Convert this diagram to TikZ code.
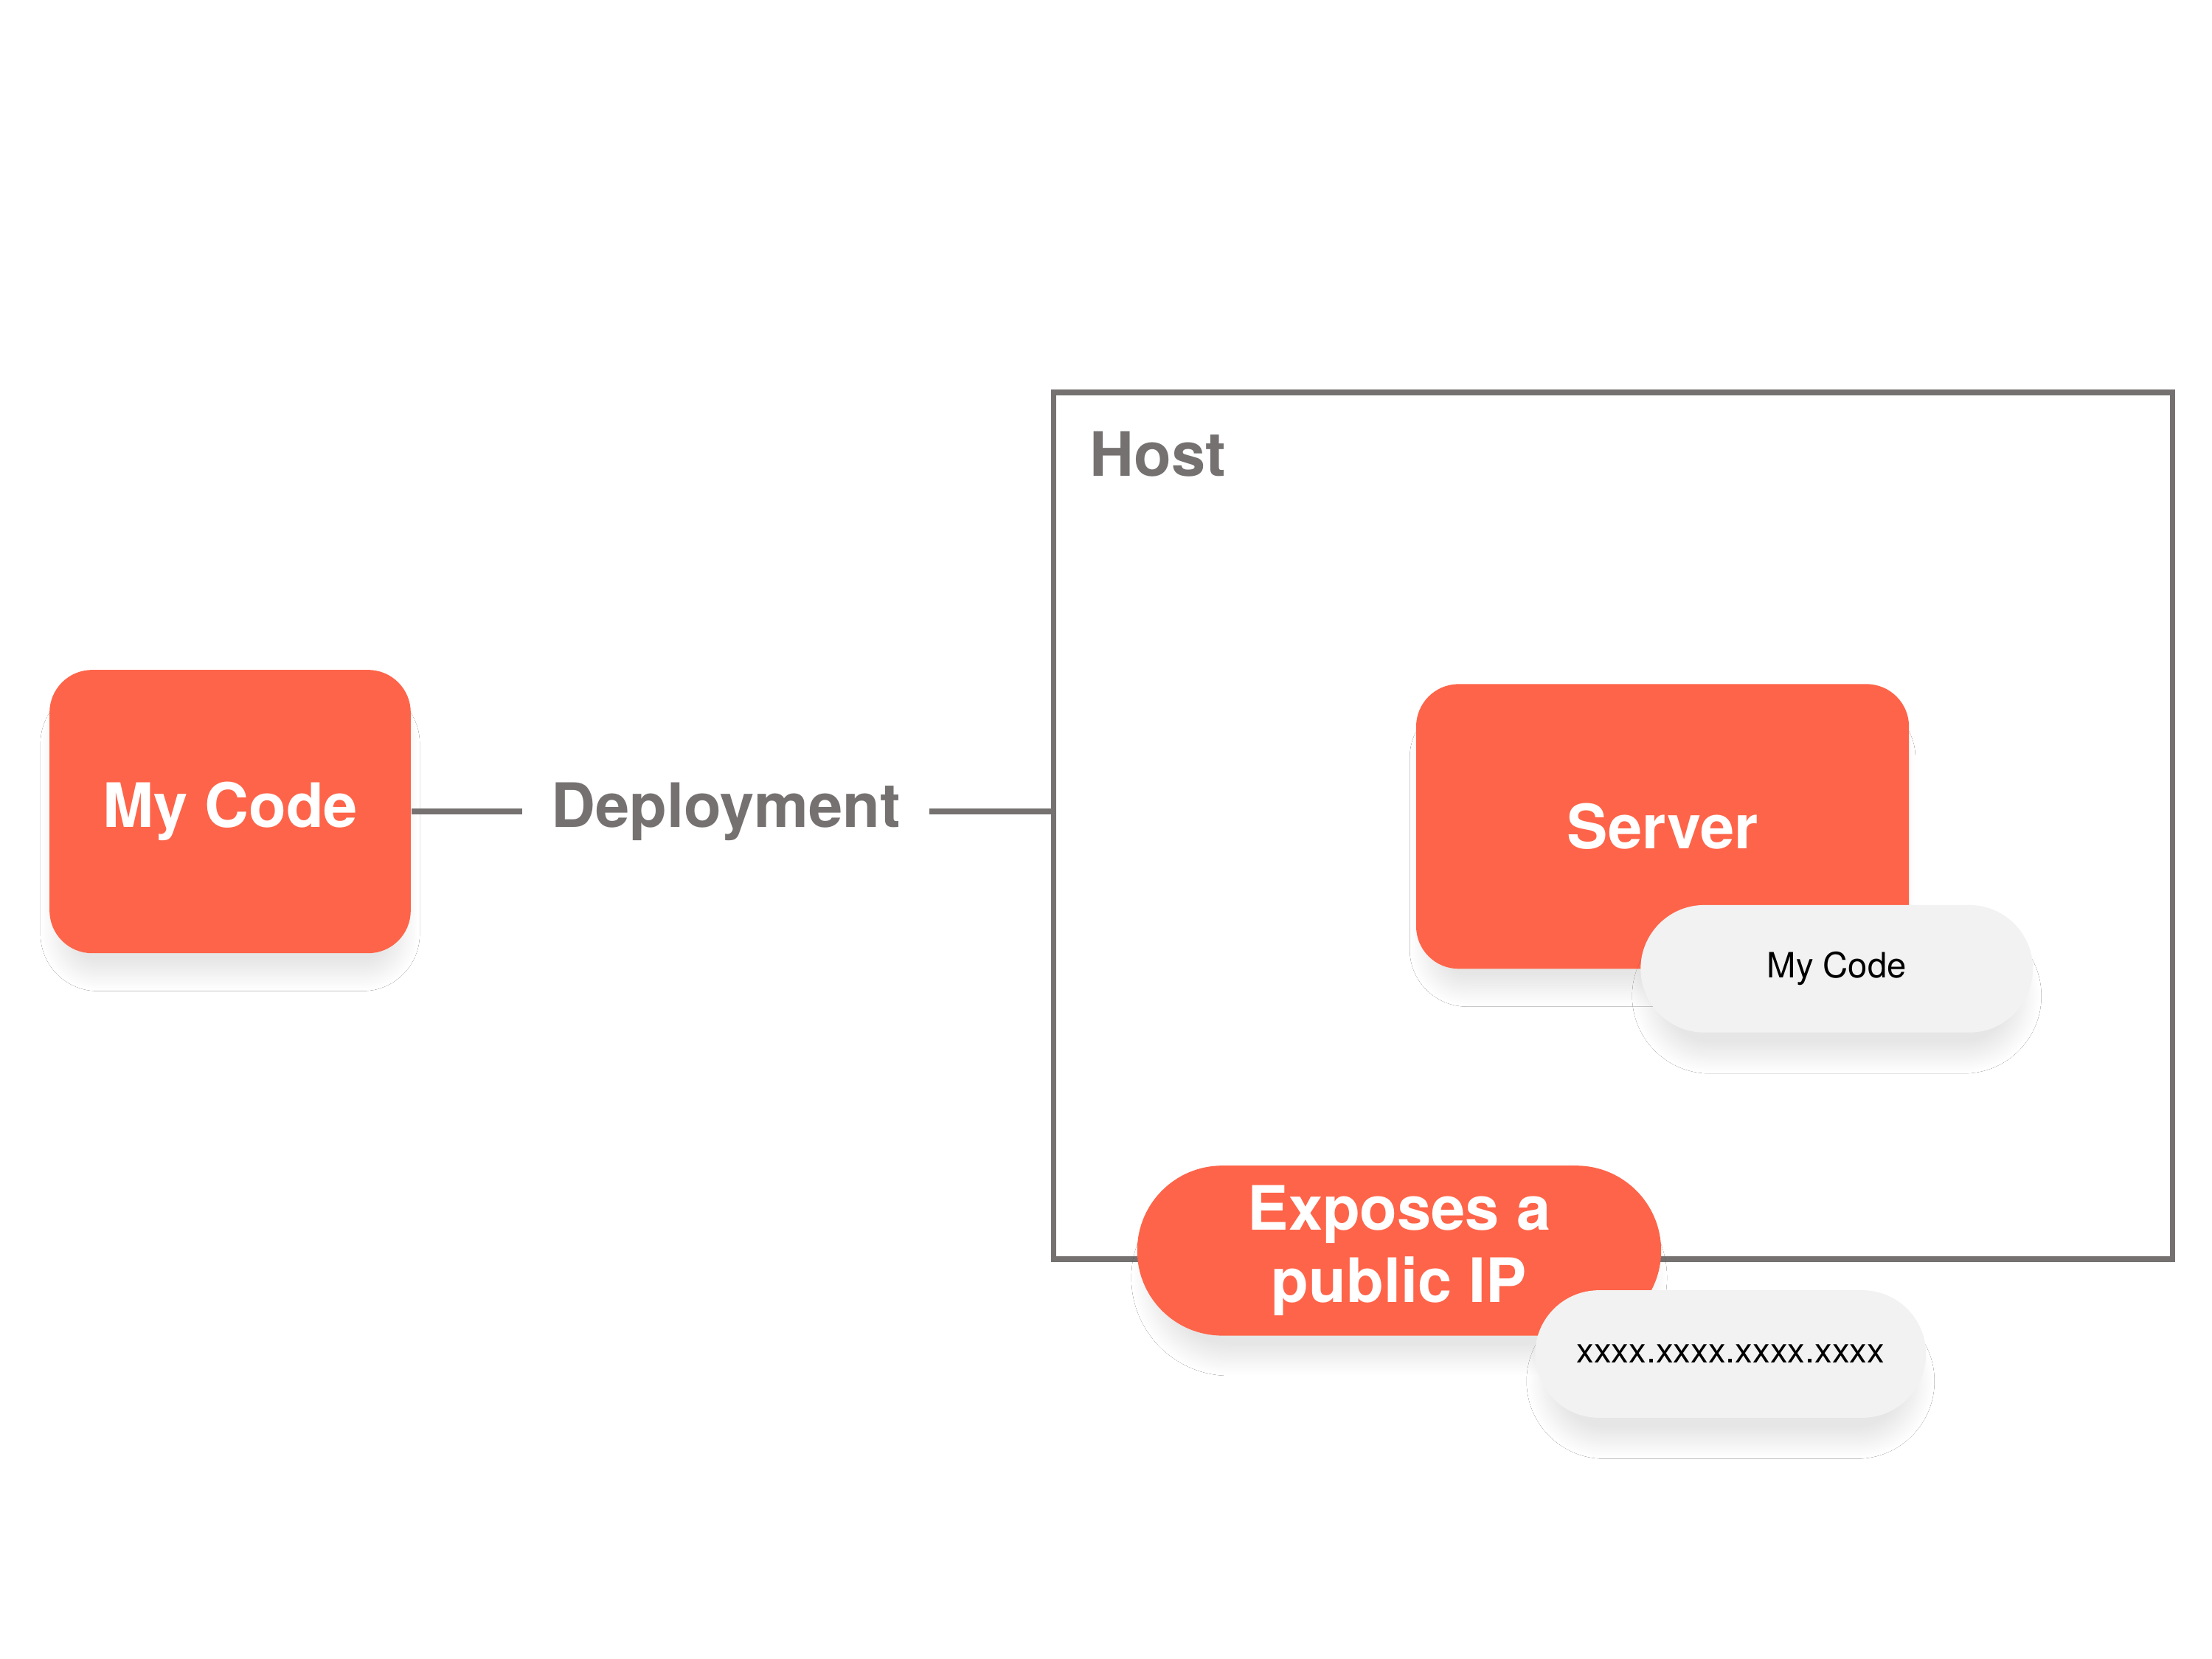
\documentclass[tikz,border=0pt]{standalone}
\usepackage{fontspec}
\setmainfont{TeX Gyre Heros}
\usepackage{tikz}
\usetikzlibrary{positioning,shadows.blur}
\definecolor{boxred}{RGB}{254,100,73}
\definecolor{linegray}{RGB}{118,113,113}
\definecolor{pillgray}{RGB}{242,242,242}

\begin{document}
\begin{tikzpicture}[
	soft/.style={blur shadow={shadow xshift=0pt, shadow yshift=-2mm, shadow scale=0.96, shadow blur radius=1.2mm, shadow blur steps=40, shadow blur extra rounding=1mm, shadow opacity=10}},
	redbox/.style={soft, fill=boxred, text=white, font=\fontsize{12.3}{14.6}\selectfont\bfseries, align=center, inner sep=0pt},
	graypill/.style={soft, fill=pillgray, text=black, font=\fontsize{7}{8.4}\selectfont, minimum width=2.77cm, minimum height=0.9cm, rounded corners=0.45cm, inner sep=0pt},
	bigtext/.style={text=linegray, font=\fontsize{12.3}{14.6}\selectfont\bfseries},
	link/.style={draw=linegray, line width=1.1pt}]
	%\draw [help lines] (0,0) grid (15.62,-11.71);
	\useasboundingbox [fill=white] (0,0) rectangle (15.62,-11.71);
	\node [link, minimum width=7.9cm, minimum height=6.12cm, inner sep=0pt] (host) at (11.39,-5.83) {};
	\node [bigtext, anchor=base west, inner sep=0pt] (hostlabel) at (7.69,-3.36) {Host};
	\node [redbox, minimum width=2.55cm, minimum height=2.0cm, rounded corners=0.3cm] (mycode) at (1.625,-5.73) {My Code};
	\node [bigtext, inner xsep=0.2cm, inner ysep=0pt] (deploy) at (5.125,-5.73) {Deployment};
	\draw [link] (mycode.east) -- (deploy.west);
	\draw [link] (deploy.east) -- (deploy.east -| host.west);
	\node [redbox, minimum width=3.48cm, minimum height=2.01cm, rounded corners=0.3cm] (server) at (11.74,-5.835) {Server};
	\node [graypill] (servercode) at (12.97,-6.84) {My Code};
	\node [redbox, minimum width=3.7cm, minimum height=1.2cm, rounded corners=0.6cm] (expose) at (9.88,-8.83) {Exposes a\\public IP};
	\node [graypill, minimum width=2.76cm] (ip) at (12.22,-9.56) {xxxx.xxxx.xxxx.xxxx};
\end{tikzpicture}
\end{document}
